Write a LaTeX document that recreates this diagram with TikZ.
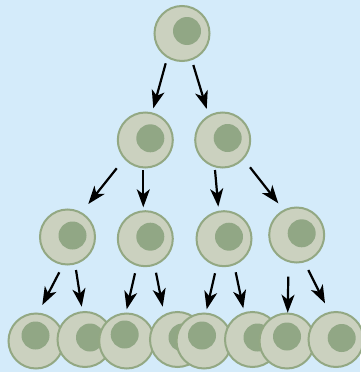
\documentclass[tikz,border=0pt]{standalone}
\usetikzlibrary{arrows.meta}

\definecolor{bgblue}{RGB}{212,235,250}
\definecolor{cellfill}{RGB}{203,209,191}
\definecolor{celledge}{RGB}{147,168,131}
\definecolor{nucleus}{RGB}{145,167,133}

\tikzset{
  cell/.style={circle, minimum size=55pt, inner sep=0pt,
    fill=cellfill, draw=celledge, line width=2pt,
    path picture={\fill[nucleus] ([shift={(#1)}]path picture bounding box.center) circle[radius=14pt];}},
  divide/.style={line width=2.2pt, black,
    -{Stealth[length=18pt, width=13pt, inset=5pt]}},
}

\begin{document}
\begin{tikzpicture}[x=1pt, y=-1pt]
  % canvas
  \fill[bgblue] (0,0) rectangle (360,372);
  \useasboundingbox (0,0) rectangle (360,372);

  % generation 0
  \node[cell={5,-2.5}] (c0) at (182,33.5) {};
  % generation 1
  \node[cell={5,-1.7}] (c1) at (145.3,140) {};
  \node[cell={5,-2}]   (c2) at (222.7,140) {};
  % generation 2
  \node[cell={5,-1.5}] (c3) at (67.5,237) {};
  \node[cell={5,-2}]   (c4) at (145.3,238.7) {};
  \node[cell={5,-2}]   (c5) at (224,238.7) {};
  \node[cell={5,-1.7}] (c6) at (296.7,235) {};
  % generation 3 (overlapping row, drawn left to right)
  \node[cell={-0.5,-5.5}] (d1) at (36,341) {};
  \node[cell={5,-2}]      (d2) at (85,339.5) {};
  \node[cell={-2,-6.5}]   (d3) at (126.7,341) {};
  \node[cell={5,-2}]      (d4) at (177.5,339.5) {};
  \node[cell={-2,-5.5}]   (d5) at (204,341) {};
  \node[cell={5,-2}]      (d6) at (252.5,339.5) {};
  \node[cell={0,-4.5}]    (d7) at (287,341) {};
  \node[cell={5.7,-1.5}]  (d8) at (336,339.5) {};

  % divisions
  \draw[divide] ([shift={(-16.3,29.8)}]c0.center) -- ([shift={(8,-31.7)}]c1.center);
  \draw[divide] ([shift={(11.3,31.5)}]c0.center)  -- ([shift={(-16,-31)}]c2.center);

  \draw[divide] ([shift={(-28.6,28.3)}]c1.center) -- ([shift={(20.8,-33)}]c3.center);
  \draw[divide] ([shift={(-2,30)}]c1.center)      -- ([shift={(-2,-31.4)}]c4.center);
  \draw[divide] ([shift={(-7.7,30)}]c2.center)    -- ([shift={(-5.7,-32)}]c5.center);
  \draw[divide] ([shift={(27.3,27.3)}]c2.center)  -- ([shift={(-18.4,-31.7)}]c6.center);

  \draw[divide] ([shift={(-8.2,35.3)}]c3.center)  -- ([shift={(6.3,-36)}]d1.center);
  \draw[divide] ([shift={(8.5,33)}]c3.center)     -- ([shift={(-3.3,-32.8)}]d2.center);
  \draw[divide] ([shift={(-10.3,34.6)}]c4.center) -- ([shift={(0,-31.7)}]d3.center);
  \draw[divide] ([shift={(10.7,34)}]c4.center)    -- ([shift={(-14.8,-32.8)}]d4.center);
  \draw[divide] ([shift={(-9,34.6)}]c5.center)    -- ([shift={(2.7,-31.7)}]d5.center);
  \draw[divide] ([shift={(11.7,33.6)}]c5.center)  -- ([shift={(-9.2,-31.2)}]d6.center);
  \draw[divide] ([shift={(-8.4,41.7)}]c6.center)  -- ([shift={(0.7,-28.3)}]d7.center);
  \draw[divide] ([shift={(11.6,35)}]c6.center)    -- ([shift={(-11,-36.2)}]d8.center);
\end{tikzpicture}
\end{document}
